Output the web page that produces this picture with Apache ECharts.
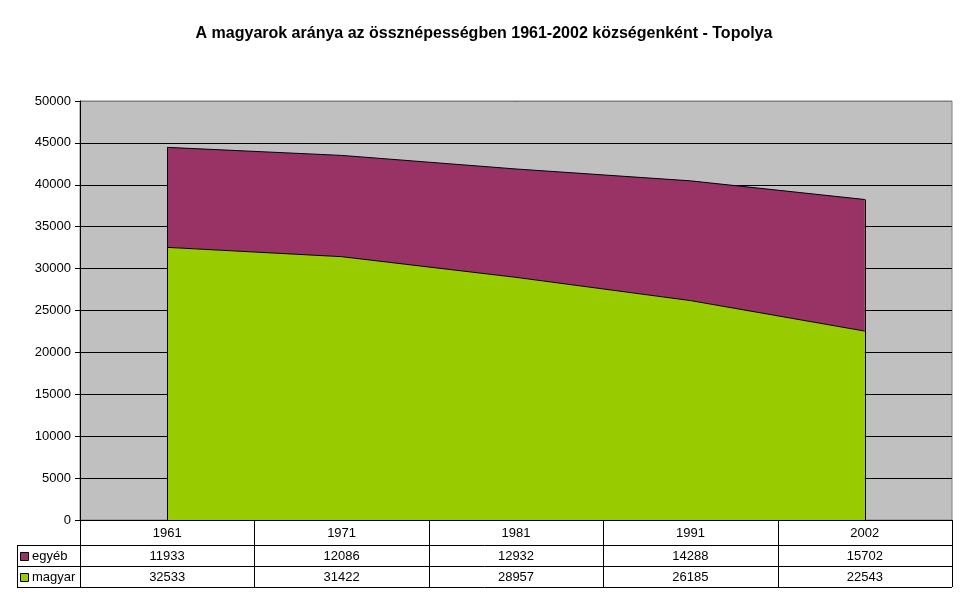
<!DOCTYPE html>
<html>
<head>
<meta charset="utf-8">
<script src="https://cdn.jsdelivr.net/npm/echarts@6/dist/echarts.min.js"></script>
<style>
  html, body { margin: 0; padding: 0; background: #fff; }
  #chart { width: 968px; height: 604px; }
</style>
</head>
<body>
<div id="chart"></div>
<script>
// ── adatok ──
const years = ["1961", "1971", "1981", "1991", "2002"];
const egyeb = [11933, 12086, 12932, 14288, 15702];
const magyar = [32533, 31422, 28957, 26185, 22543];
const yTicks = { min: 0, max: 50000, interval: 5000 };

const FONT = "Liberation Sans, Arial, sans-serif";
const C_MAGYAR = "#99CC00";
const C_EGYEB = "#993366";

// plot area (px)
const G = { left: 80, right: 952, top: 101, bottom: 520 };
const rowY = [520, 545, 566, 587];
const keyLeft = 17;

const totals = magyar.map((v, i) => v + egyeb[i]);
const edges = [0, years.length - 1].map(i => [
  { coord: [i, 0] }, { coord: [i, totals[i]] }
]);

// ── adattábla (graphic) ──
function tableGraphics() {
  const out = [];
  const colW = (G.right - G.left) / years.length;
  const line = (x1, y1, x2, y2, stroke) => ({
    type: "line", silent: true, z: 10,
    shape: { x1, y1, x2, y2 },
    style: { stroke: stroke || "#000", lineWidth: 1 }
  });
  // gray top border of plot (over the 50000 gridline)
  out.push(line(G.left + 1, G.top + 0.5, G.right, G.top + 0.5, "#808080"));
  // horizontal lines
  out.push(line(G.left, rowY[0] + 0.5, G.right, rowY[0] + 0.5));
  for (let r = 1; r < rowY.length; r++)
    out.push(line(keyLeft, rowY[r] + 0.5, G.right, rowY[r] + 0.5));
  // vertical lines
  out.push(line(keyLeft + 0.5, rowY[1], keyLeft + 0.5, rowY[3]));
  for (let c = 0; c <= years.length; c++) {
    const x = Math.round(G.left + c * colW) + 0.5;
    out.push(line(x, rowY[0], x, rowY[3]));
  }
  const rows = [
    { name: null, vals: years },
    { name: "egyéb", vals: egyeb, color: C_EGYEB },
    { name: "magyar", vals: magyar, color: C_MAGYAR },
  ];
  rows.forEach((row, r) => {
    const cy = (rowY[r] + rowY[r + 1]) / 2 + 1;
    row.vals.forEach((v, c) => {
      out.push({
        type: "text", silent: true,
        x: G.left + (c + 0.5) * colW, y: cy,
        style: { text: String(v), font: "13px " + FONT, fill: "#000",
                 align: "center", verticalAlign: "middle" }
      });
    });
    if (row.name) {
      out.push({
        type: "rect", silent: true,
        shape: { x: keyLeft + 3.5, y: Math.round(cy) - 4.5, width: 8, height: 8 },
        style: { fill: row.color, stroke: "#000", lineWidth: 1 }
      });
      out.push({
        type: "text", silent: true,
        x: keyLeft + 15, y: cy,
        style: { text: row.name, font: "13px " + FONT, fill: "#000",
                 align: "left", verticalAlign: "middle" }
      });
    }
  });
  return out;
}

const chart = echarts.init(document.getElementById("chart"), null, { renderer: "canvas" });
chart.setOption({
  animation: false,
  backgroundColor: "#fff",
  title: {
    text: "A magyarok aránya az össznépességben 1961-2002 községenként - Topolya",
    left: "center", top: 21,
    textStyle: { fontFamily: FONT, fontSize: 16, fontWeight: "bold", color: "#000" }
  },
  grid: {
    left: G.left, right: 968 - G.right, top: G.top, bottom: 604 - G.bottom,
    show: true, backgroundColor: "#C0C0C0", borderColor: "#808080", borderWidth: 1
  },
  xAxis: {
    type: "category", data: years, boundaryGap: true,
    axisLine: { lineStyle: { color: "#000" } },
    axisTick: { show: false }, axisLabel: { show: false },
    splitLine: { show: false }
  },
  yAxis: {
    type: "value", min: yTicks.min, max: yTicks.max, interval: yTicks.interval,
    axisLine: { show: true, lineStyle: { color: "#000" } },
    axisTick: { show: true, length: 5, lineStyle: { color: "#000" } },
    axisLabel: { fontFamily: FONT, fontSize: 13, color: "#000", margin: 9,
                 formatter: v => String(v) },
    splitLine: { show: true, lineStyle: { color: "#000", width: 1 } }
  },
  series: [
    {
      name: "magyar", type: "line", stack: "total", data: magyar,
      symbol: "none", z: 3,
      lineStyle: { color: "#000", width: 1 },
      areaStyle: { color: C_MAGYAR, opacity: 1 }
    },
    {
      name: "egyéb", type: "line", stack: "total", data: egyeb,
      symbol: "none", z: 2,
      lineStyle: { color: "#000", width: 1 },
      areaStyle: { color: C_EGYEB, opacity: 1 },
      markLine: {
        silent: true, symbol: "none", animation: false,
        label: { show: false },
        lineStyle: { color: "#000", width: 1, type: "solid" },
        data: edges
      }
    }
  ],
  graphic: tableGraphics()
});
</script>
</body>
</html>
